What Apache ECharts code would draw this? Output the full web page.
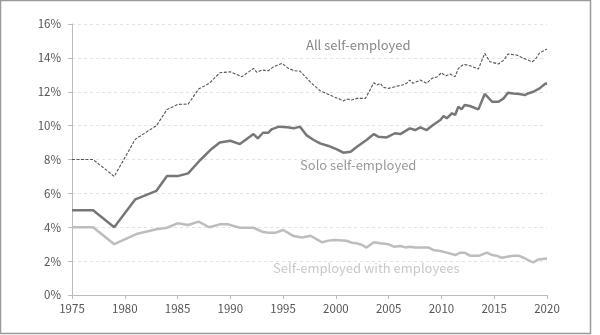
<!DOCTYPE html>
<html>
<head>
<meta charset="utf-8">
<script src="https://cdn.jsdelivr.net/npm/echarts@6/dist/echarts.min.js"></script>
<style>
  html, body { margin: 0; padding: 0; background: #fff; }
  #chart { width: 600px; height: 335px; }
</style>
</head>
<body>
<div id="chart"></div>
<script>
// Share of self-employed in total employment (%), 1975-2020
const allYears = [1975, 1977, 1979, 1981, 1982, 1983, 1984, 1985, 1986, 1987, 1988, 1989, 1990, 1991.1, 1992.2, 1992.5, 1993, 1993.6, 1994.1, 1994.9, 1995.5, 1996.1, 1996.6, 1997.1, 1997.7, 1998.5, 1999.1, 1999.8, 2000.4, 2000.7, 2001.0, 2001.5, 2002, 2002.8, 2003.6, 2003.9, 2004.2, 2004.5, 2005, 2005.6, 2006.3, 2006.7, 2007.0, 2007.3, 2008, 2008.6, 2009.1, 2009.6, 2010.0, 2010.4, 2010.8, 2011.3, 2011.6, 2012.1, 2012.7, 2013.5, 2014.1, 2014.6, 2015.4, 2015.9, 2016.3, 2017.1, 2017.8, 2018.6, 2018.9, 2019.3, 2019.5, 2020];
const allValues = [8.0, 8.0, 7.0, 9.2, 9.6, 10.0, 10.95, 11.25, 11.27, 12.16, 12.5, 13.12, 13.18, 12.89, 13.38, 13.15, 13.28, 13.24, 13.48, 13.68, 13.38, 13.24, 13.22, 12.89, 12.5, 12.06, 11.9, 11.7, 11.55, 11.45, 11.57, 11.51, 11.61, 11.61, 12.53, 12.4, 12.5, 12.26, 12.2, 12.3, 12.4, 12.5, 12.69, 12.5, 12.69, 12.5, 12.79, 12.89, 13.12, 12.93, 13.05, 12.89, 13.38, 13.62, 13.54, 13.34, 14.27, 13.77, 13.64, 13.87, 14.23, 14.17, 13.97, 13.77, 13.91, 14.3, 14.36, 14.52];

const soloYears = [1975, 1977, 1979, 1981, 1983, 1984, 1985, 1986, 1987.15, 1988.1, 1989, 1990, 1990.9, 1992.2, 1992.6, 1993.1, 1993.6, 1993.9, 1994.6, 1995.4, 1996.0, 1996.6, 1997.2, 1997.9, 1998.5, 1999.3, 2000.1, 2000.7, 2001.4, 2002, 2002.9, 2003.6, 2004, 2004.8, 2005.6, 2006.1, 2007, 2007.5, 2008, 2008.6, 2009.2, 2009.9, 2010.2, 2010.5, 2011, 2011.3, 2011.6, 2011.9, 2012.2, 2012.7, 2013.5, 2014.1, 2014.8, 2015.4, 2015.9, 2016.3, 2016.8, 2017.4, 2017.9, 2018.2, 2018.7, 2019.3, 2019.8, 2020];
const soloValues = [5, 5, 4, 5.65, 6.15, 7.02, 7.02, 7.18, 7.97, 8.56, 9.0, 9.11, 8.91, 9.5, 9.25, 9.58, 9.58, 9.78, 9.94, 9.9, 9.84, 9.94, 9.44, 9.15, 8.95, 8.8, 8.6, 8.4, 8.46, 8.75, 9.15, 9.5, 9.35, 9.3, 9.55, 9.5, 9.84, 9.74, 9.9, 9.74, 10.04, 10.33, 10.57, 10.43, 10.73, 10.63, 11.12, 10.96, 11.22, 11.16, 10.96, 11.87, 11.41, 11.41, 11.61, 11.94, 11.9, 11.87, 11.8, 11.9, 12.0, 12.2, 12.46, 12.5];

const empYears = [1975, 1977, 1979, 1981.1, 1983, 1984, 1985, 1986, 1987, 1988, 1989, 1989.8, 1990.9, 1992.2, 1993, 1993.6, 1994.3, 1995, 1996, 1996.8, 1997.6, 1998.7, 1999.3, 1999.9, 2001, 2001.5, 2002, 2002.5, 2002.9, 2003.6, 2004.2, 2005, 2005.5, 2006.1, 2006.6, 2007, 2007.5, 2008, 2008.8, 2009.2, 2009.9, 2010.5, 2011.3, 2011.8, 2012.2, 2012.7, 2013.6, 2014.3, 2014.8, 2015.2, 2015.7, 2016.2, 2016.8, 2017.3, 2017.8, 2018.4, 2018.7, 2019.2, 2019.8, 2020];
const empValues = [4, 4, 3, 3.6, 3.88, 3.97, 4.23, 4.13, 4.33, 4.0, 4.17, 4.17, 3.97, 3.97, 3.74, 3.68, 3.68, 3.84, 3.48, 3.4, 3.5, 3.11, 3.21, 3.25, 3.2, 3.09, 3.05, 2.95, 2.8, 3.11, 3.05, 2.99, 2.85, 2.89, 2.81, 2.85, 2.8, 2.81, 2.8, 2.66, 2.6, 2.5, 2.36, 2.5, 2.5, 2.32, 2.32, 2.5, 2.36, 2.32, 2.2, 2.26, 2.32, 2.32, 2.2, 2.0, 1.93, 2.1, 2.14, 2.15];

const xTicks = [1975, 1980, 1985, 1990, 1995, 2000, 2005, 2010, 2015, 2020];
const yTicks = [0, 2, 4, 6, 8, 10, 12, 14, 16];

const seriesNames = ['All self-employed', 'Solo self-employed', 'Self-employed with employees'];

const pairs = (xs, ys) => xs.map((x, i) => [x, ys[i]]);

const FONT = '"Noto Sans CJK KR", "Liberation Sans", sans-serif';

const chart = echarts.init(document.getElementById('chart'), null, { renderer: 'canvas' });

chart.setOption({
  animation: false,
  backgroundColor: '#fff',
  grid: { left: 72, right: 53, top: 24, bottom: 40 },
  xAxis: {
    type: 'value',
    min: xTicks[0],
    max: xTicks[xTicks.length - 1],
    interval: 5,
    axisLine: { lineStyle: { color: '#bbb', width: 1 } },
    axisTick: { show: true, length: 4, lineStyle: { color: '#bbb' } },
    axisLabel: { color: '#555', fontSize: 11.5, fontFamily: FONT, margin: 8, formatter: v => String(v) },
    splitLine: { show: false }
  },
  yAxis: {
    type: 'value',
    min: yTicks[0],
    max: yTicks[yTicks.length - 1],
    interval: 2,
    axisLine: { show: true, lineStyle: { color: '#bbb', width: 1 } },
    axisTick: { show: true, length: 4, lineStyle: { color: '#bbb' } },
    axisLabel: { color: '#555', fontSize: 11.5, fontFamily: FONT, margin: 11, formatter: v => v + '%' },
    splitLine: { show: true, lineStyle: { color: '#e2e2e2', type: [3, 3], width: 1 } }
  },
  series: [
    {
      name: seriesNames[0],
      type: 'line',
      data: pairs(allYears, allValues),
      symbol: 'none',
      lineStyle: { color: '#555', width: 1.1, type: [3, 1.5] },
      z: 3
    },
    {
      name: seriesNames[1],
      type: 'line',
      data: pairs(soloYears, soloValues),
      symbol: 'none',
      lineStyle: { color: '#777', width: 2.5 },
      z: 2
    },
    {
      name: seriesNames[2],
      type: 'line',
      data: pairs(empYears, empValues),
      symbol: 'none',
      lineStyle: { color: '#bdbdbd', width: 2.5 },
      z: 1
    }
  ],
  graphic: [
    { type: 'rect', shape: { x: 0.5, y: 0.5, width: 590, height: 333 }, style: { fill: 'none', stroke: '#9a9a9a', lineWidth: 1.5 }, silent: true },
    { type: 'text', left: 306, top: 39, style: { text: seriesNames[0], fill: '#888', font: '13px ' + FONT } },
    { type: 'text', left: 300, top: 159, style: { text: seriesNames[1], fill: '#999', font: '13px ' + FONT } },
    { type: 'text', left: 273, top: 262, style: { text: seriesNames[2], fill: '#c8c8c8', font: '13px ' + FONT } }
  ]
});
</script>
</body>
</html>
